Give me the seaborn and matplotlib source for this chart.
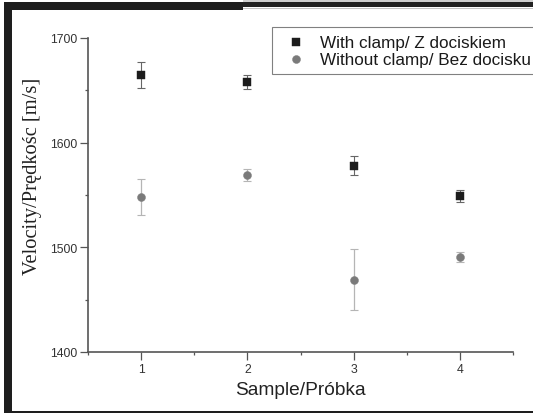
import numpy as np
import pandas as pd
import matplotlib
matplotlib.use('Agg')
import matplotlib.pyplot as plt
import seaborn as sns
from matplotlib.patches import Rectangle

# values
samples = [1, 2, 3, 4]
with_clamp = [1665, 1658, 1578, 1549]
with_clamp_err = [12.5, 6.5, 9, 5.5]
without_clamp = [1548, 1569, 1469, 1491]
without_clamp_err = [17, 6, 29, 5]

lab_with = 'With clamp/ Z dociskiem'
lab_without = 'Without clamp/ Bez docisku'

df_with = pd.DataFrame({'sample': samples, 'velocity': with_clamp, 'err': with_clamp_err})
df_without = pd.DataFrame({'sample': samples, 'velocity': without_clamp, 'err': without_clamp_err})

sns.set_style('ticks')
plt.rcParams['font.family'] = ['Liberation Sans', 'DejaVu Sans']

W, H = 533, 414
fig = plt.figure(figsize=(W / 100, H / 100), dpi=100)
ax = fig.add_axes([88 / W, 1 - 353 / H, (513 - 88) / W, (353 - 39) / H])

sq_col = '#1c1c1c'
ci_col = '#7a7a7a'

# error bars first so the markers sit on top
ax.errorbar(df_with['sample'], df_with['velocity'], yerr=df_with['err'], fmt='none',
            ecolor='#666666', elinewidth=0.8, capsize=2.6, capthick=0.8, zorder=2)
ax.errorbar(df_without['sample'], df_without['velocity'], yerr=df_without['err'], fmt='none',
            ecolor='#b5b5b5', elinewidth=0.9, capsize=2.6, capthick=0.8, zorder=2)

sns.scatterplot(data=df_with, x='sample', y='velocity', marker='s', s=28, color=sq_col,
                edgecolor=sq_col, linewidth=0.3, label=lab_with, ax=ax, zorder=3)
sns.scatterplot(data=df_without, x='sample', y='velocity', marker='o', s=33, color=ci_col,
                edgecolor=ci_col, linewidth=0.3, label=lab_without, ax=ax, zorder=3)

ax.set_xlim(0.5, 4.5)
ax.set_ylim(1400, 1700)
ax.set_xticks([1, 2, 3, 4])
ax.set_xticks([0.5, 1.5, 2.5, 3.5, 4.5], minor=True)
ax.set_yticks([1400, 1500, 1600, 1700])
ax.set_yticks([1450, 1550, 1650], minor=True)

sns.despine(ax=ax)
for side in ['left', 'bottom']:
    ax.spines[side].set_color('#555555')
    ax.spines[side].set_linewidth(1.2)
ax.tick_params(which='major', length=5.5, width=0.9, color='#555555', labelsize=8.8,
               labelcolor='#333333', pad=2.5)
ax.tick_params(which='minor', length=2.5, width=0.9, color='#555555')

ax.set_xlabel('Sample/Próbka', fontsize=13.8, color='#222222', labelpad=4)
ax.set_ylabel('Velocity/Prędkośc [m/s]', fontsize=14.8, color='#222222',
              family=['Liberation Serif', 'DejaVu Serif'], va='center')
ax.yaxis.set_label_coords((33 - 88) / 425, (353 - 176.5) / 314)

leg = ax.legend(loc='upper left', bbox_to_anchor=((272 - 88) / 425, (353 - 28) / 314),
                frameon=True, fancybox=False, fontsize=12.3, borderpad=0.45,
                handlelength=1.9, handletextpad=0.45, labelspacing=0.12, borderaxespad=0)
leg.get_frame().set_edgecolor('#606060')
leg.get_frame().set_linewidth(0.8)
for t in leg.get_texts():
    t.set_color('#1a1a1a')

# scanned page frame around the chart
def frame(x0, y0, x1, y1, c):
    fig.add_artist(Rectangle((x0 / W, 1 - y1 / H), (x1 - x0) / W, (y1 - y0) / H,
                             transform=fig.transFigure, color=c, lw=0, zorder=10))

frame(243, 0, 533, 2.7, '#cfcfcf')
frame(4, 3, 243, 10.5, '#1e1e1e')
frame(243, 2.7, 533, 8.3, '#222222')
frame(243, 9, 533, 10, '#c4c4c4')
frame(4, 3, 12, 414, '#1e1e1e')
frame(4, 411.5, 533, 414, '#1e1e1e')

fig.savefig('out.png', dpi=100)
